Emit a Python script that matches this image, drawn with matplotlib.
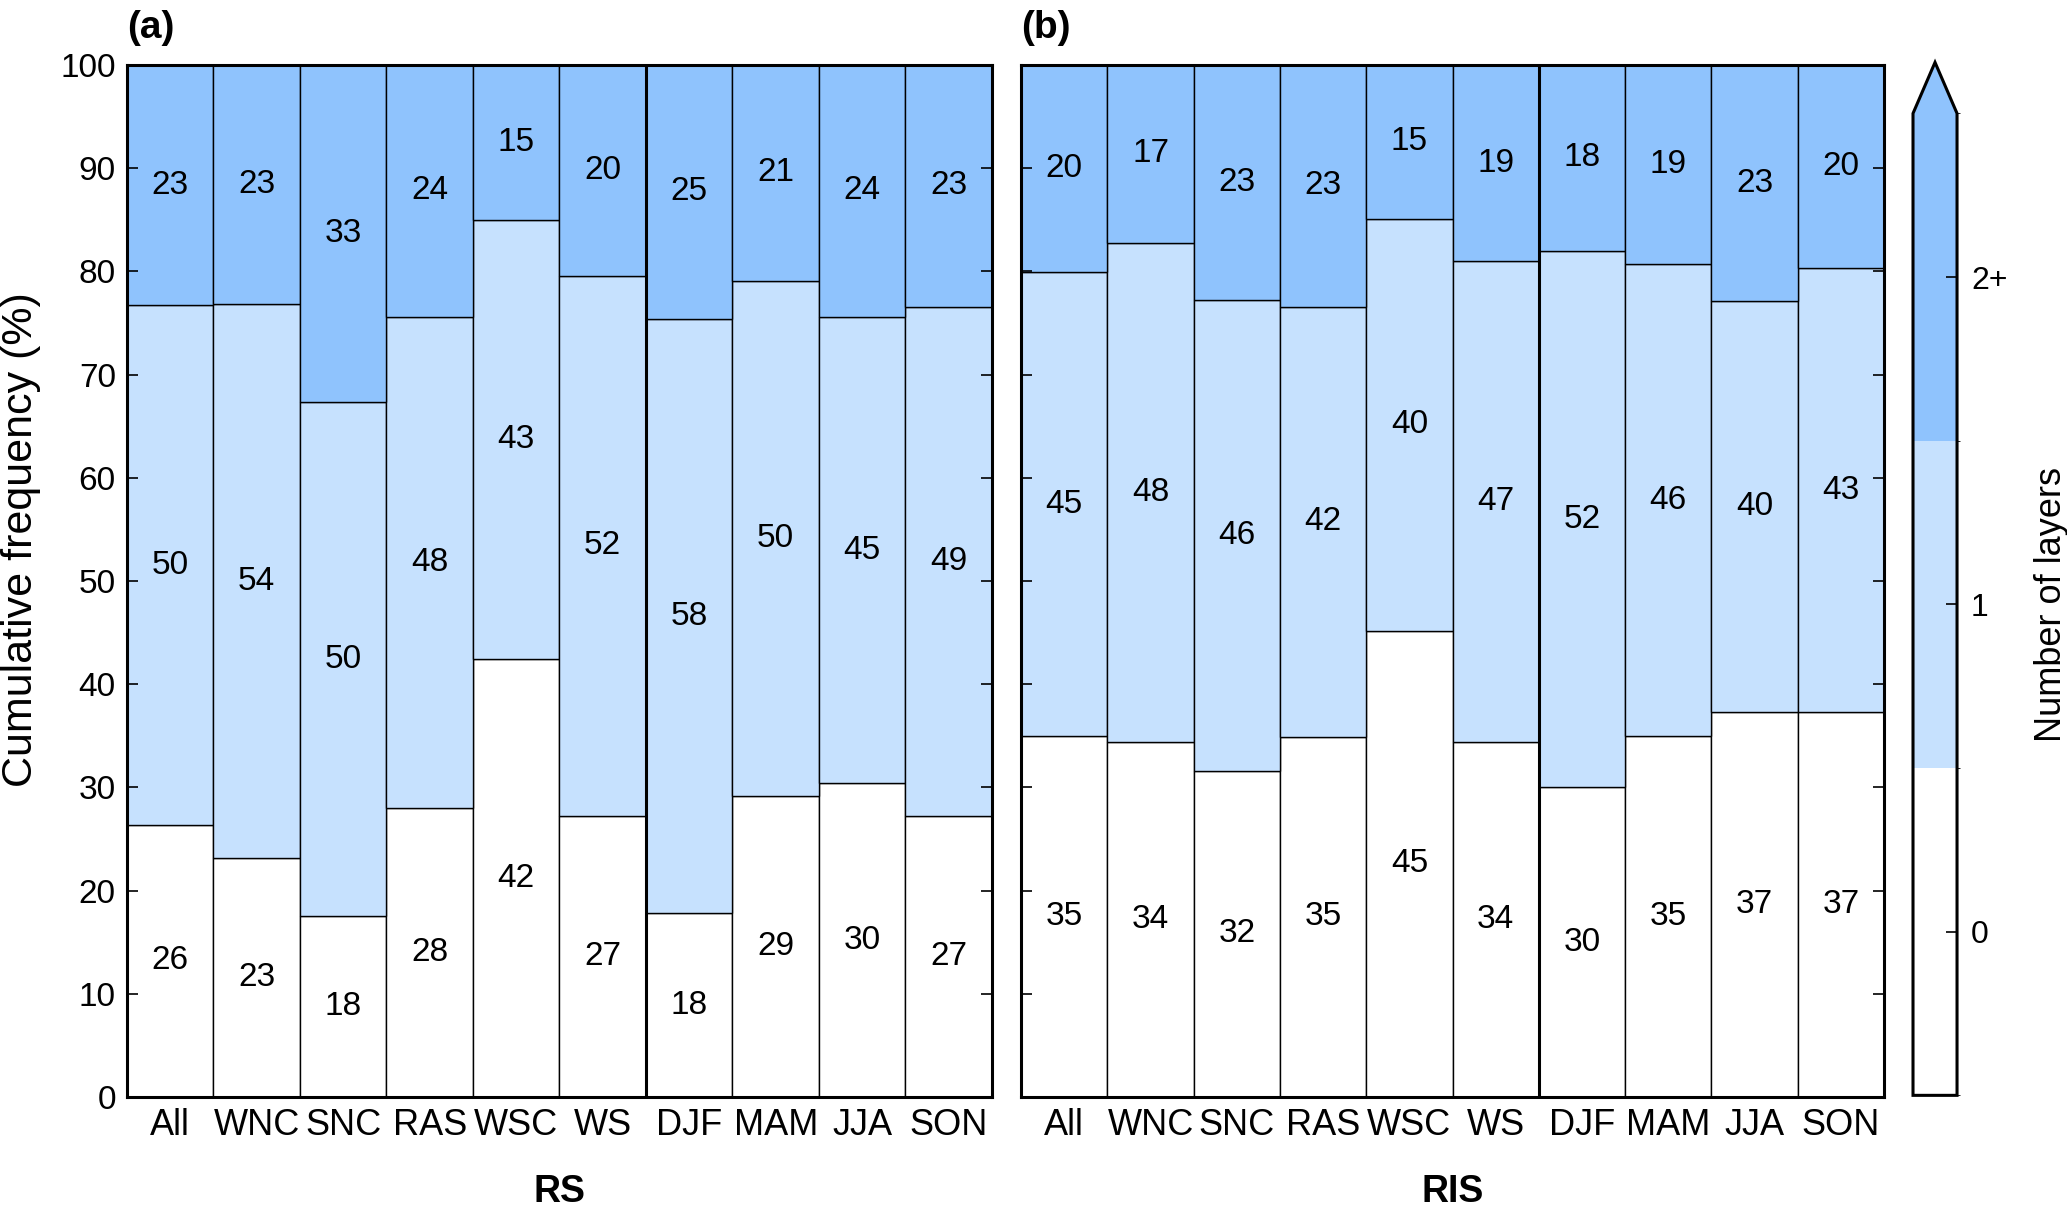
import numpy as np
import matplotlib
matplotlib.use("Agg")
from matplotlib import pyplot as plt
from matplotlib.colors import ListedColormap, BoundaryNorm
import matplotlib.cm as cm

plt.rcParams['font.family'] = ['Liberation Sans', 'DejaVu Sans']

categorias = ['All', 'WNC', 'SNC', 'RAS', 'WSC', 'WS', 'DJF', 'MAM', 'JJA', 'SON']

# RS (panel a): frecuencia (%) de 0, 1 y 2+ capas
rs_cero = [26.4, 23.2, 17.5, 28.0, 42.4, 27.2, 17.8, 29.2, 30.4, 27.2]
rs_una = [50.3, 53.6, 49.8, 47.6, 42.6, 52.4, 57.6, 49.9, 45.2, 49.4]
rs_dos = [23.3, 23.2, 32.7, 24.4, 15.0, 20.4, 24.6, 20.9, 24.4, 23.4]

# RIS (panel b)
ris_cero = [35.0, 34.4, 31.6, 34.9, 45.2, 34.4, 30.0, 35.0, 37.3, 37.3]
ris_una = [44.9, 48.4, 45.6, 41.7, 39.9, 46.6, 52.0, 45.7, 39.8, 43.0]
ris_dos = [20.1, 17.2, 22.8, 23.4, 14.9, 19.0, 18.0, 19.3, 22.9, 19.7]

colores = ['#FFFFFF', '#C6E1FE', '#8FC3FD']
etiquetas_cb = ['0', '1', '2+']
FS = 24


def dibujar_panel(ax, cero, una, dos, letra, titulo, con_etiquetas):
    x = np.arange(len(categorias))
    fondo = np.zeros(len(categorias))
    for valores, color in zip([cero, una, dos], colores):
        valores = np.array(valores)
        ax.bar(x, valores, width=1.0, bottom=fondo, color=color,
               edgecolor='black', linewidth=1.0)
        for xi, b, v in zip(x, fondo, valores):
            ax.text(xi, b + v / 2, f"{round(v)}", ha='center', va='center',
                    fontsize=FS)
        fondo = fondo + valores
    ax.axvline(5.5, color='black', lw=2.2)
    ax.set_xlim(-0.5, len(categorias) - 0.5)
    ax.set_ylim(0, 100)
    ax.set_yticks(np.arange(0, 101, 10))
    ax.set_xticks(x)
    ax.set_xticklabels(categorias, fontsize=26)
    ax.tick_params(axis='x', length=0, pad=8)
    ax.tick_params(axis='y', direction='in', length=8, width=1.2,
                   left=True, right=True, labelsize=FS, pad=8)
    if not con_etiquetas:
        ax.set_yticklabels([])
    for s in ax.spines.values():
        s.set_linewidth(2.2)
    ax.set_xlabel(titulo, fontsize=27, fontweight='bold', labelpad=22)
    ax.text(0.0, 1.018, letra, transform=ax.transAxes, fontsize=28,
            fontweight='bold', ha='left', va='bottom')


fig = plt.figure(figsize=(20.67, 12.11), dpi=100)
ax_a = fig.add_axes([0.0614, 0.0941, 0.4185, 0.8522])
ax_b = fig.add_axes([0.4940, 0.0941, 0.4175, 0.8522])

dibujar_panel(ax_a, rs_cero, rs_una, rs_dos, '(a)', 'RS', True)
dibujar_panel(ax_b, ris_cero, ris_una, ris_dos, '(b)', 'RIS', False)
ax_a.set_ylabel('Cumulative frequency (%)', fontsize=31)
ax_a.yaxis.set_label_coords(-0.099, 0.54)

# barra de colores
cmap = ListedColormap(colores[:3])
cmap.set_over(colores[2])
norm = BoundaryNorm([-0.5, 0.5, 1.5, 2.5], cmap.N)
cax = fig.add_axes([0.9255, 0.0955, 0.0213, 0.853])
cb = fig.colorbar(cm.ScalarMappable(norm=norm, cmap=cmap), cax=cax,
                  extend='max', extendfrac=0.052, ticks=[0, 1, 2])
cb.set_ticklabels(etiquetas_cb)
cb.ax.tick_params(direction='in', length=8, width=1.2, labelsize=23, pad=10)
cb.outline.set_linewidth(2.2)
cb.set_label('Number of layers', fontsize=26, labelpad=19)

fig.savefig('out.png', dpi=100)
